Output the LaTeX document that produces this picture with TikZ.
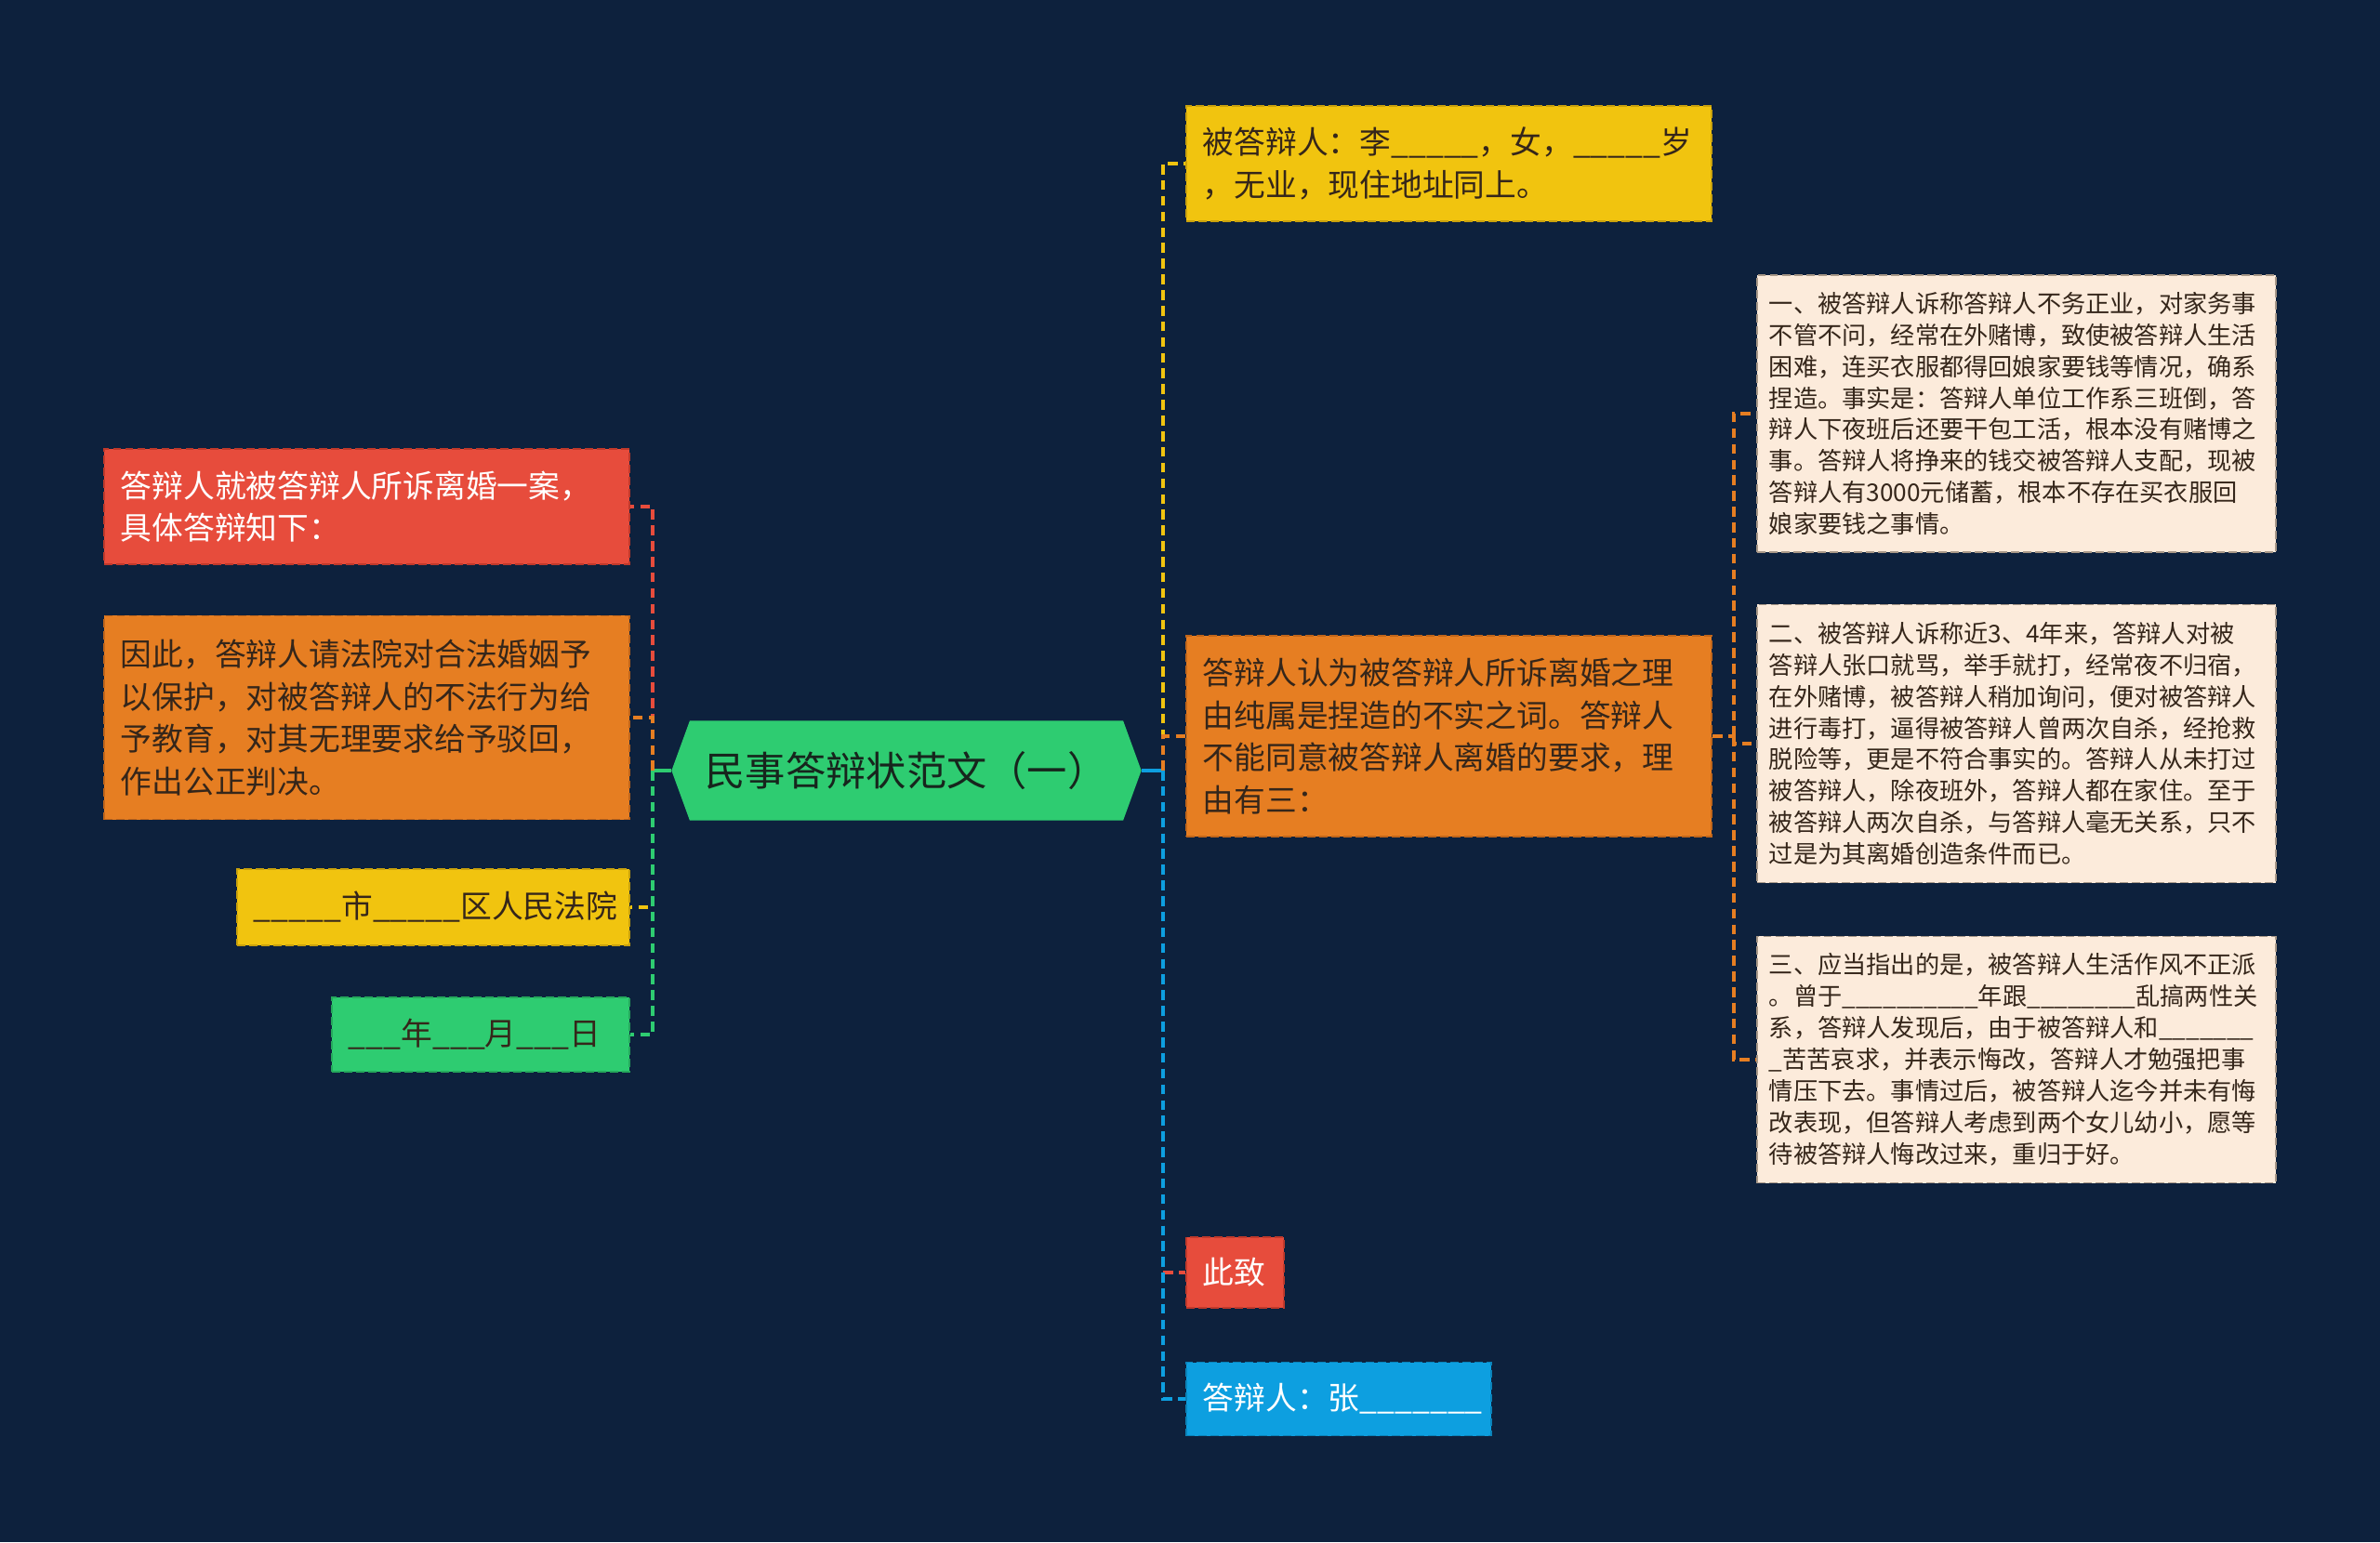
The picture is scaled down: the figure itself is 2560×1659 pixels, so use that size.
\documentclass[tikz,border=0pt]{standalone}
\usepackage{fontspec}
\setmainfont{Noto Sans CJK SC}
\usepackage{tikz}
\usetikzlibrary{shapes.symbols}
\usetikzlibrary{positioning}

\definecolor{bgnavy}{HTML}{0D213D}
\definecolor{redfill}{HTML}{E74C3C}
\definecolor{redline}{HTML}{C0392B}
\definecolor{orangefill}{HTML}{E67E22}
\definecolor{orangeline}{HTML}{C0651A}
\definecolor{yellowfill}{HTML}{F1C40F}
\definecolor{yellowline}{HTML}{C9A10C}
\definecolor{greenfill}{HTML}{2ECC71}
\definecolor{greenline}{HTML}{25A85C}
\definecolor{bluefill}{HTML}{0D9FE0}
\definecolor{blueline}{HTML}{0A82B8}
\definecolor{subfill}{HTML}{FCEBDB}
\definecolor{subline}{HTML}{A89888}
\definecolor{textdark}{HTML}{35261A}
\definecolor{roottext}{HTML}{17251D}

\begin{document}
\begin{tikzpicture}[x=0.01cm, y=-0.01cm,
  box/.style={draw, dash pattern=on 2.5pt off 1.2pt, line width=0.5pt, inner xsep=0.18cm, inner ysep=0pt,
    align=left, font=\fontsize{9.6pt}{13pt}\selectfont},
  subbox/.style={box, fill=subfill, draw=subline, text=textdark, inner xsep=0.13cm, text width=5.32cm,
    minimum height=#1, font=\fontsize{7.45pt}{9.65pt}\selectfont},
  link/.style={dash pattern=on 3pt off 1.8pt, line width=1.1pt}]

  \fill[bgnavy] (0,0) rectangle (2560,1659);
  \useasboundingbox (0,0) rectangle (2560,1659);

  % root
  \node[shape=signal, signal to=west and east, signal pointer angle=140, fill=greenfill, text=roottext,
    minimum height=1.07cm, text width=4.66cm, inner xsep=0pt, align=center,
    font=\fontsize{12.3pt}{14pt}\selectfont] (root) at (975,829) {民事答辩状范文（一）};
  \coordinate (lj) at (702,829);
  \coordinate (rj) at (1251,829);

  % left side
  \node[box, anchor=east, fill=redfill, draw=redline, text=white, text width=5.29cm, minimum height=1.24cm]
    (lred) at (678,545) {答辩人就被答辩人所诉离婚一案，\\具体答辩知下：};
  \node[box, anchor=east, fill=orangefill, draw=orangeline, text=textdark, text width=5.29cm, minimum height=2.19cm]
    (lorange) at (678,772) {因此，答辩人请法院对合法婚姻予\\以保护，对被答辩人的不法行为给\\予教育，对其无理要求给予驳回，\\作出公正判决。};
  \node[box, anchor=east, fill=yellowfill, draw=yellowline, text=textdark, text width=3.86cm, minimum height=0.82cm]
    (lyellow) at (678,976) {\_\_\_\_\_市\_\_\_\_\_区人民法院};
  \node[box, anchor=east, fill=greenfill, draw=greenline, text=textdark, text width=2.84cm, minimum height=0.80cm]
    (lgreen) at (678,1113) {\_\_\_年\_\_\_月\_\_\_日};

  % right side
  \node[box, anchor=west, fill=yellowfill, draw=yellowline, text=textdark, text width=5.29cm, minimum height=1.24cm]
    (ryellow) at (1275,176) {被答辩人：李\_\_\_\_\_，女，\_\_\_\_\_岁\\，无业，现住地址同上。};
  \node[box, anchor=west, fill=orangefill, draw=orangeline, text=textdark, text width=5.29cm, minimum height=2.16cm]
    (rorange) at (1275,792) {答辩人认为被答辩人所诉离婚之理\\由纯属是捏造的不实之词。答辩人\\不能同意被答辩人离婚的要求，理\\由有三：};
  \node[box, anchor=west, fill=redfill, draw=redline, text=white, text width=0.69cm, minimum height=0.76cm]
    (rred) at (1275,1369) {此致};
  \node[box, anchor=west, fill=bluefill, draw=blueline, text=white, text width=2.92cm, minimum height=0.79cm]
    (rblue) at (1275,1505) {答辩人：张\_\_\_\_\_\_\_};
  \coordinate (sj) at (1865,792);

  % reasons
  \node[subbox=2.98cm, anchor=west] (sone) at (1889,445)
    {一、被答辩人诉称答辩人不务正业，对家务事\\不管不问，经常在外赌博，致使被答辩人生活\\困难，连买衣服都得回娘家要钱等情况，确系\\捏造。事实是：答辩人单位工作系三班倒，答\\辩人下夜班后还要干包工活，根本没有赌博之\\事。答辩人将挣来的钱交被答辩人支配，现被\\答辩人有3000元储蓄，根本不存在买衣服回\\娘家要钱之事情。};
  \node[subbox=2.99cm, anchor=west] (stwo) at (1889,800)
    {二、被答辩人诉称近3、4年来，答辩人对被\\答辩人张口就骂，举手就打，经常夜不归宿，\\在外赌博，被答辩人稍加询问，便对被答辩人\\进行毒打，逼得被答辩人曾两次自杀，经抢救\\脱险等，更是不符合事实的。答辩人从未打过\\被答辩人，除夜班外，答辩人都在家住。至于\\被答辩人两次自杀，与答辩人毫无关系，只不\\过是为其离婚创造条件而已。};
  \node[subbox=2.65cm, anchor=west] (sthree) at (1889,1140)
    {三、应当指出的是，被答辩人生活作风不正派\\。曾于\_\_\_\_\_\_\_\_\_\_年跟\_\_\_\_\_\_\_\_乱搞两性关\\系，答辩人发现后，由于被答辩人和\_\_\_\_\_\_\_\\\_苦苦哀求，并表示悔改，答辩人才勉强把事\\情压下去。事情过后，被答辩人迄今并未有悔\\改表现，但答辩人考虑到两个女儿幼小，愿等\\待被答辩人悔改过来，重归于好。};

  % connectors
  \draw[greenfill, line width=1.1pt] (root.west) -- (lj);
  \draw[link, redfill] (lj) |- (lred.east);
  \draw[link, orangefill] (lj) |- (lorange.east);
  \draw[link, yellowfill] (lj) |- (lyellow.east);
  \draw[link, greenfill] (lj) |- (lgreen.east);

  \draw[bluefill, line width=1.1pt] (root.east) -- (rj);
  \draw[link, yellowfill] (rj) |- (ryellow.west);
  \draw[link, orangefill] (rj) |- (rorange.west);
  \draw[link, redfill] (rj) |- (rred.west);
  \draw[link, bluefill] (rj) |- (rblue.west);

  \draw[link, orangefill] (rorange.east) -- (sj);
  \draw[link, orangefill] (sj) |- (sone.west);
  \draw[link, orangefill] (sj) |- (stwo.west);
  \draw[link, orangefill] (sj) |- (sthree.west);

\end{tikzpicture}
\end{document}
